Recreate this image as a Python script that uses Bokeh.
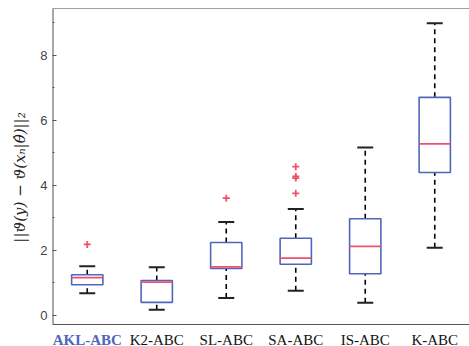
from bokeh.plotting import figure
from bokeh.models import Range1d, FixedTicker, LinearAxis
from bokeh.core.properties import value
from bokeh.embed import file_html
from bokeh.resources import INLINE

categories = ["AKL-ABC", "K2-ABC", "SL-ABC", "SA-ABC", "IS-ABC", "K-ABC"]
lower_whisker = [0.68, 0.17, 0.53, 0.76, 0.39, 2.08]
q1 = [0.94, 0.40, 1.44, 1.57, 1.28, 4.39]
median = [1.16, 1.02, 1.49, 1.76, 2.12, 5.27]
q3 = [1.25, 1.07, 2.24, 2.37, 2.97, 6.70]
upper_whisker = [1.51, 1.48, 2.87, 3.27, 5.16, 8.98]
outlier_cat = ["AKL-ABC", "SL-ABC", "SA-ABC", "SA-ABC", "SA-ABC", "SA-ABC"]
outlier_val = [2.18, 3.60, 4.57, 4.27, 4.22, 3.75]
y_ticks = [0, 2, 4, 6, 8]
y_minor = [1, 3, 5, 7, 9]

X_LO, X_HI = 0.5, 6.5
Y_FLOOR, Y_TOP = -0.28, 9.43      # visible axis floor / top of the plot box
Y_CANVAS_BOTTOM = -0.957          # frame reaches canvas bottom so labels fit
LABEL_Y = -0.50

xpos = [i + 1 for i in range(len(categories))]
box_w = 0.45
cap_w = 0.23

BLUE = "#5066bb"
RED = "#f0506e"
AXIS = "#555555"

p = figure(width=469, height=346, output_backend="svg", toolbar_location=None,
           x_range=Range1d(X_LO, X_HI), y_range=Range1d(Y_CANVAS_BOTTOM, Y_TOP),
           x_axis_location=None,
           min_border_left=52, min_border_right=0, min_border_top=8, min_border_bottom=0)
p.outline_line_color = None
p.grid.visible = False
p.background_fill_color = "white"

# axis lines (left and bottom) of the plot box
p.segment(x0=[X_LO], y0=[Y_FLOOR], x1=[X_LO], y1=[Y_TOP], line_color=AXIS, line_width=2)
p.segment(x0=[X_LO], y0=[Y_FLOOR], x1=[X_HI], y1=[Y_FLOOR], line_color=AXIS, line_width=1)

# whiskers
p.segment(x0=xpos, y0=q3, x1=xpos, y1=upper_whisker, line_color="black",
          line_width=1.6, line_dash="5 4")
p.segment(x0=xpos, y0=lower_whisker, x1=xpos, y1=q1, line_color="black",
          line_width=1.6, line_dash="5 4")
# caps
p.segment(x0=[x - cap_w / 2 for x in xpos], y0=upper_whisker,
          x1=[x + cap_w / 2 for x in xpos], y1=upper_whisker, line_color="#222222", line_width=2)
p.segment(x0=[x - cap_w / 2 for x in xpos], y0=lower_whisker,
          x1=[x + cap_w / 2 for x in xpos], y1=lower_whisker, line_color="#222222", line_width=2)
# boxes
p.vbar(x=xpos, width=box_w, bottom=q1, top=q3, fill_color="white",
       line_color=BLUE, line_width=1.6)
# medians
p.segment(x0=[x - box_w / 2 for x in xpos], y0=median,
          x1=[x + box_w / 2 for x in xpos], y1=median, line_color=RED, line_width=1.6)
# outliers
ox = [categories.index(c) + 1 for c in outlier_cat]
p.scatter(x=ox, y=outlier_val, marker="cross", size=7, line_color=RED, line_width=1.8)

# category labels (top-anchored just under the axis floor)
p.text(x=xpos, y=[LABEL_Y] * len(categories), text=categories,
       text_align="center", text_baseline="top",
       text_font=value("Liberation Serif"), text_font_size="15px",
       text_font_style=["bold"] + ["normal"] * (len(categories) - 1),
       text_color=[BLUE] + ["#111111"] * (len(categories) - 1))

# y axis
ya = p.yaxis[0]
ya.ticker = FixedTicker(ticks=y_ticks, minor_ticks=y_minor)
ya.major_tick_in = 4
ya.major_tick_out = 0
ya.minor_tick_in = 2
ya.minor_tick_out = 0
ya.axis_line_color = None
ya.major_tick_line_color = AXIS
ya.minor_tick_line_color = AXIS
ya.major_label_text_font = "Liberation Sans"
ya.major_label_text_font_size = "13px"
ya.major_label_text_color = "#444444"
ya.major_label_standoff = 5
ya.axis_label = "||ϑ(y) − ϑ(xₙ|θ̂)||₂"
ya.axis_label_text_font = "DejaVu Serif"
ya.axis_label_text_font_style = "italic"
ya.axis_label_text_font_size = "15px"
ya.axis_label_text_color = "#222222"
ya.axis_label_standoff = 8

# top border line
top = LinearAxis(ticker=FixedTicker(ticks=[]), major_label_text_font_size="0px",
                 axis_line_color="#a0a0a0", major_tick_line_color=None,
                 minor_tick_line_color=None)
p.add_layout(top, "above")

open("out.html", "w").write(file_html(p, INLINE))
